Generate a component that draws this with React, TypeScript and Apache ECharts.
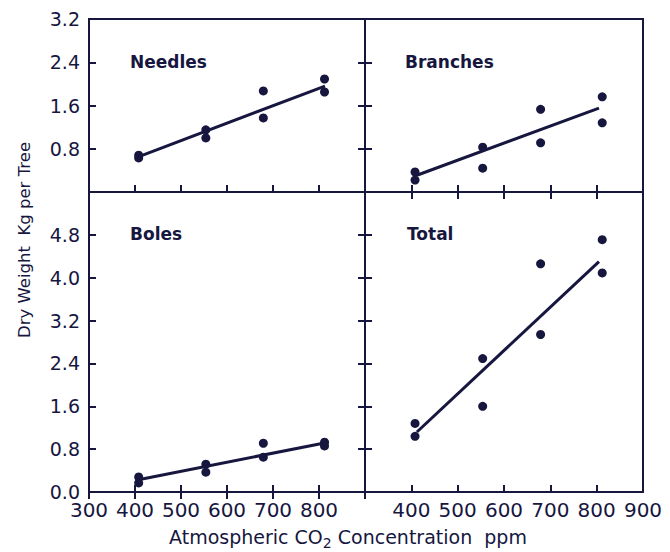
import React, { useEffect, useRef } from "react";
import * as echarts from "echarts";

// CO2 concentration levels (ppm), two trees per level
const co2 = [408, 408, 554, 554, 679, 679, 812, 812];
const needles = [0.68, 0.63, 1.15, 1.0, 1.87, 1.37, 2.09, 1.85];
const branches = [0.37, 0.22, 0.83, 0.44, 1.53, 0.91, 1.76, 1.28];
const boles = [0.28, 0.17, 0.52, 0.37, 0.91, 0.65, 0.93, 0.86];
const total = [1.28, 1.04, 2.49, 1.6, 4.26, 2.94, 4.71, 4.09];

// fitted regression lines: [x0, x1], [y0, y1]
const needlesFitX = [407, 813];
const needlesFitY = [0.65, 1.96];
const branchesFitX = [412, 805];
const branchesFitY = [0.31, 1.55];
const bolesFitX = [402, 809];
const bolesFitY = [0.22, 0.91];
const totalFitX = [412, 805];
const totalFitY = [1.12, 4.3];

const panelNames = ["Needles", "Branches", "Boles", "Total"];
const xTitle = "Atmospheric CO";
const xTitleSub = "2";
const xTitleEnd = " Concentration  ppm";
const yTitle = "Dry Weight  Kg per Tree";

const INK = "#16163f";
const FONT = "DejaVu Sans";

export default function App() {
  const ref = useRef<HTMLDivElement>(null);
  useEffect(() => {
    if (!ref.current) return;
    const chart = echarts.init(ref.current, null, { renderer: "svg" });
    const grids = [
      { left: 89, top: 19, width: 276, height: 173 },
      { left: 365, top: 19, width: 278, height: 173 },
      { left: 89, top: 192, width: 276, height: 300 },
      { left: 365, top: 192, width: 278, height: 300 },
    ].map((g) => ({ ...g, show: true, borderColor: INK, borderWidth: 2, backgroundColor: "transparent" }));

    const axisLine = { show: true, lineStyle: { color: INK, width: 2 } };
    const baseX = (gridIndex: number, extra: any) => ({
      type: "value",
      gridIndex,
      min: 300,
      max: 900,
      interval: 100,
      splitLine: { show: false },
      axisLine,
      axisTick: { show: true, inside: true, length: 7, lineStyle: { color: INK, width: 2 } },
      axisLabel: { show: false },
      ...extra,
    });
    const xLabel = { show: true, color: INK, fontFamily: FONT, fontSize: 20, margin: 8 };
    const xAxis = [
      baseX(0, {}),
      baseX(1, {}),
      baseX(2, { axisLabel: { ...xLabel, showMaxLabel: false } }),
      baseX(3, { axisLabel: { ...xLabel, showMinLabel: false } }),
      baseX(2, { position: "top" }),
      baseX(3, { position: "top" }),
    ];
    const baseY = (gridIndex: number, max: number, extra: any) => ({
      type: "value",
      gridIndex,
      min: 0,
      max,
      interval: 0.8,
      splitLine: { show: false },
      axisLine,
      axisTick: { show: true, inside: true, length: 7, lineStyle: { color: INK, width: 2 } },
      axisLabel: { show: false },
      ...extra,
    });
    const yLabel = {
      show: true,
      color: INK,
      fontFamily: FONT,
      fontSize: 19,
      margin: 9,
      formatter: (v: number) => v.toFixed(1),
    };
    const yAxis = [
      baseY(0, 3.2, { axisLabel: { ...yLabel, showMinLabel: false } }),
      baseY(1, 3.2, {}),
      baseY(2, 5.6, { axisLabel: { ...yLabel, showMaxLabel: false } }),
      baseY(3, 5.6, {}),
      baseY(0, 3.2, { position: "right" }),
      baseY(2, 5.6, { position: "right" }),
    ];

    const pts = (ys: number[]) => co2.map((x, i) => [x, ys[i]]);
    const fit = (xs: number[], ys: number[]) => xs.map((x, i) => [x, ys[i]]);
    const sets = [
      [needles, needlesFitX, needlesFitY],
      [branches, branchesFitX, branchesFitY],
      [boles, bolesFitX, bolesFitY],
      [total, totalFitX, totalFitY],
    ] as number[][][];
    const series: any[] = [];
    sets.forEach(([ys, fx, fy], i) => {
      series.push({
        type: "scatter",
        xAxisIndex: i,
        yAxisIndex: i,
        data: pts(ys),
        symbol: "circle",
        symbolSize: 9,
        itemStyle: { color: INK, opacity: 1 },
      });
      series.push({
        type: "line",
        xAxisIndex: i,
        yAxisIndex: i,
        data: fit(fx, fy),
        showSymbol: false,
        lineStyle: { color: INK, width: 3 },
      });
    });

    const labelPos = [
      [130, 62],
      [405, 62],
      [130, 234],
      [407, 234],
    ];
    const graphic: any[] = panelNames.map((name, i) => ({
      type: "text",
      x: labelPos[i][0],
      y: labelPos[i][1],
      style: {
        text: name,
        fill: INK,
        font: `bold 17px "${FONT}"`,
        verticalAlign: "middle",
      },
    }));
    graphic.push({
      type: "text",
      x: 24,
      y: 240,
      rotation: Math.PI / 2,
      style: {
        text: yTitle,
        fill: INK,
        font: `16.5px "${FONT}"`,
        align: "center",
        verticalAlign: "middle",
      },
    });
    graphic.push({
      type: "text",
      x: 348,
      y: 537,
      style: {
        text: `{a|${xTitle}}{s|${xTitleSub}}{a|${xTitleEnd}}`,
        align: "center",
        verticalAlign: "middle",
        rich: {
          a: { fill: INK, fontFamily: FONT, fontSize: 19, verticalAlign: "bottom" },
          s: { fill: INK, fontFamily: FONT, fontSize: 14, verticalAlign: "bottom", padding: [0, 0, -3, 0] },
        },
      },
    });

    chart.setOption({
      animation: false,
      backgroundColor: "#ffffff",
      grid: grids,
      xAxis,
      yAxis,
      series,
      graphic,
    });
    return () => chart.dispose();
  }, []);
  return <div ref={ref} style={{ position: "absolute", left: 0, top: 0, width: 670, height: 552 }} />;
}
